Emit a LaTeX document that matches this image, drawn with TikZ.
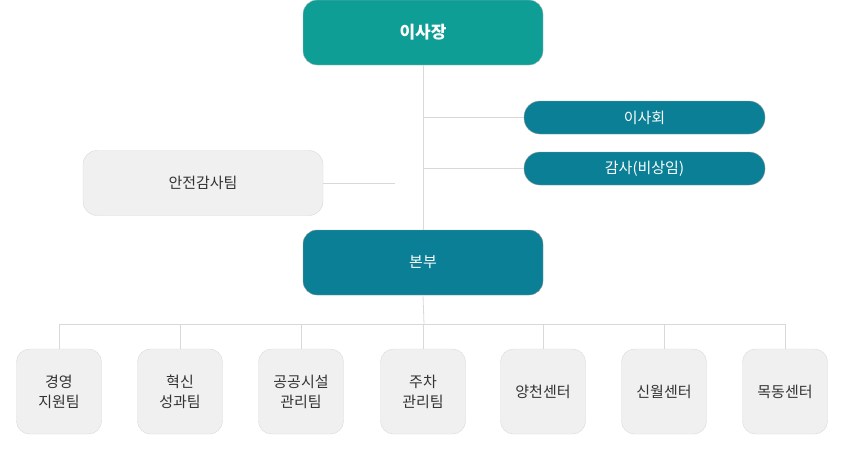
\documentclass[tikz,border=0pt]{standalone}
\usepackage{fontspec}
\setmainfont{Noto Sans CJK KR}
\begin{document}
\begin{tikzpicture}[x=1pt,y=-1pt,
  lnk/.style={draw=black!15,line width=0.8pt},
  topbox/.style={draw=black!25,fill=topc,rounded corners=14pt,minimum width=240pt,minimum height=65pt,text=white,font=\fontsize{17}{20}\selectfont\bfseries},
  bluebox/.style={draw=black!40,fill=bluec,rounded corners=14pt,minimum width=240pt,minimum height=65pt,text=white,font=\fontsize{15}{18}\selectfont},
  pill/.style={draw=black!40,fill=bluec,rounded corners=16pt,minimum width=241pt,minimum height=33pt,text=white,font=\fontsize{15}{18}\selectfont},
  graybox/.style={draw=black!15,fill=grayc,rounded corners=14pt,minimum width=240pt,minimum height=65pt,text=textc,font=\fontsize{15}{18}\selectfont},
  unit/.style={draw=black!15,fill=grayc,rounded corners=13pt,minimum width=85pt,minimum height=85pt,text=textc,align=center,font=\fontsize{15}{20}\selectfont}]
\definecolor{topc}{HTML}{0E9E96}
\definecolor{bluec}{HTML}{0B7F96}
\definecolor{grayc}{HTML}{F0F0F0}
\definecolor{textc}{HTML}{333333}
\useasboundingbox (0,0) rectangle (846,450);
\node[topbox] (ceo) at (423,32.5) {이사장};
\node[pill] (board) at (644.5,117.5) {이사회};
\node[pill] (audit) at (644.5,168.5) {감사(비상임)};
\node[graybox] (safe) at (203,183) {안전감사팀};
\node[bluebox] (hq) at (423,262.5) {본부};
\coordinate (j1) at (424,117.5);
\coordinate (j2) at (424,168.5);
\coordinate (sf) at (395,183);
\coordinate (bus) at (424,324);
\draw[lnk] (ceo.south) -- (hq.north);
\draw[lnk] (j1) -- (board.west);
\draw[lnk] (j2) -- (audit.west);
\draw[lnk] (safe.east) -- (sf);
\draw[lnk] (hq.south) -- (bus);
\foreach \n/\x/\t in {u1/59/{경영\\지원팀},u2/180/{혁신\\성과팀},u3/301/{공공시설\\관리팀},u4/423/{주차\\관리팀},u5/543/{양천센터},u6/664/{신월센터},u7/785/{목동센터}}{
  \node[unit] (\n) at (\x,391.5) {\t};
  \draw[lnk] (\n.north) -- (\x,324);
}
\draw[lnk] (u1.north |- bus) -- (u7.north |- bus);
\end{tikzpicture}
\end{document}
